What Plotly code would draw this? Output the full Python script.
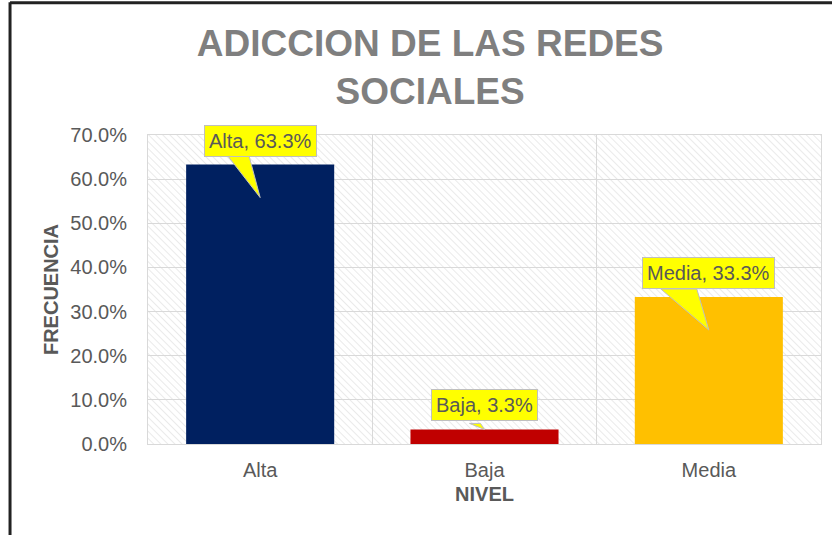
import base64
import plotly.graph_objects as go

niveles = ["Alta", "Baja", "Media"]
frecuencia = [0.633, 0.033, 0.333]
colores = ["#002060", "#C00000", "#FFC000"]
etiquetas = ["Alta, 63.3%", "Baja, 3.3%", "Media, 33.3%"]

# callout wedge geometry in pixels relative to the bar value (x offsets, base y, tip y)
wedges = [(-35, -12, 12, -33), (-15, -4, 6, 0), (-48, -12, 8, -33)]

GRAY = "#595959"
FONT = "Liberation Sans, Arial, sans-serif"

svg = """<svg xmlns='http://www.w3.org/2000/svg' width='673' height='309'>
<defs><pattern id='h' width='5' height='5' patternUnits='userSpaceOnUse' patternTransform='rotate(-45)'>
<line x1='0' y1='0' x2='0' y2='5' stroke='#dedede' stroke-width='1.3'/></pattern></defs>
<rect width='673' height='309' fill='white'/><rect width='673' height='309' fill='url(#h)'/></svg>"""
hatch = "data:image/svg+xml;base64," + base64.b64encode(svg.encode()).decode()

fig = go.Figure(go.Bar(x=niveles, y=frecuencia, marker_color=colores, marker_line_width=0,
                       width=0.66, hoverinfo="skip"))

shapes = []
annotations = []
for cat, val, txt, (xa, xb, yb, yt) in zip(niveles, frecuencia, etiquetas, wedges):
    shapes.append(dict(type="path", xref="x", yref="y", xsizemode="pixel", ysizemode="pixel",
                       xanchor=cat, yanchor=val,
                       path=f"M {xa} {yb} L {xb} {yb} L 0 {yt} Z",
                       fillcolor="#FFFF00", line=dict(color="#BFBFBF", width=1), layer="above"))
    annotations.append(dict(x=cat, y=val, text=txt, showarrow=False, yshift=24,
                            bgcolor="#FFFF00", bordercolor="#BFBFBF", borderwidth=1, borderpad=4,
                            font=dict(family=FONT, size=20, color=GRAY)))

# outer frame (top and left edges visible in the crop)
shapes.append(dict(type="line", xref="paper", yref="paper", x0=-0.205, x1=1.1, y0=1.428, y1=1.428,
                   line=dict(color="#222222", width=3)))
shapes.append(dict(type="line", xref="paper", yref="paper", x0=-0.205, x1=-0.205, y0=1.43, y1=-0.35,
                   line=dict(color="#222222", width=3)))

fig.update_layout(
    width=832, height=535,
    margin=dict(l=148, r=11, t=135, b=91),
    paper_bgcolor="white", plot_bgcolor="rgba(0,0,0,0)",
    showlegend=False,
    title=dict(text="ADICCION DE LAS REDES<br>SOCIALES", x=0.517, xanchor="center",
               y=1 - 56 / 535, yanchor="middle",
               font=dict(family=FONT, size=37, color="#7F7F7F", weight="bold")),
    font=dict(family=FONT, size=20, color=GRAY),
    shapes=shapes, annotations=annotations,
    images=[dict(source=hatch, xref="paper", yref="paper", x=0, y=1, sizex=1, sizey=1,
                 xanchor="left", yanchor="top", sizing="stretch", layer="below")],
)
fig.update_xaxes(type="category", tickson="boundaries", showgrid=True, gridcolor="#D9D9D9",
                 showline=True, linecolor="#D9D9D9", mirror=True, ticks="", ticklabelstandoff=8,
                 title=dict(text="NIVEL", standoff=6, font=dict(size=20, color=GRAY, weight="bold")))
fig.update_yaxes(range=[0, 0.7], dtick=0.1, tickformat=".1%", showgrid=True, gridcolor="#D9D9D9",
                 zeroline=False, showline=True, linecolor="#D9D9D9", mirror=True, ticks="",
                 ticklabelstandoff=16,
                 title=dict(text="FRECUENCIA", standoff=6, font=dict(size=20, color=GRAY, weight="bold")))

fig.write_html("out.html", config={"displayModeBar": False},
               post_script="document.body.style.margin='0';")
